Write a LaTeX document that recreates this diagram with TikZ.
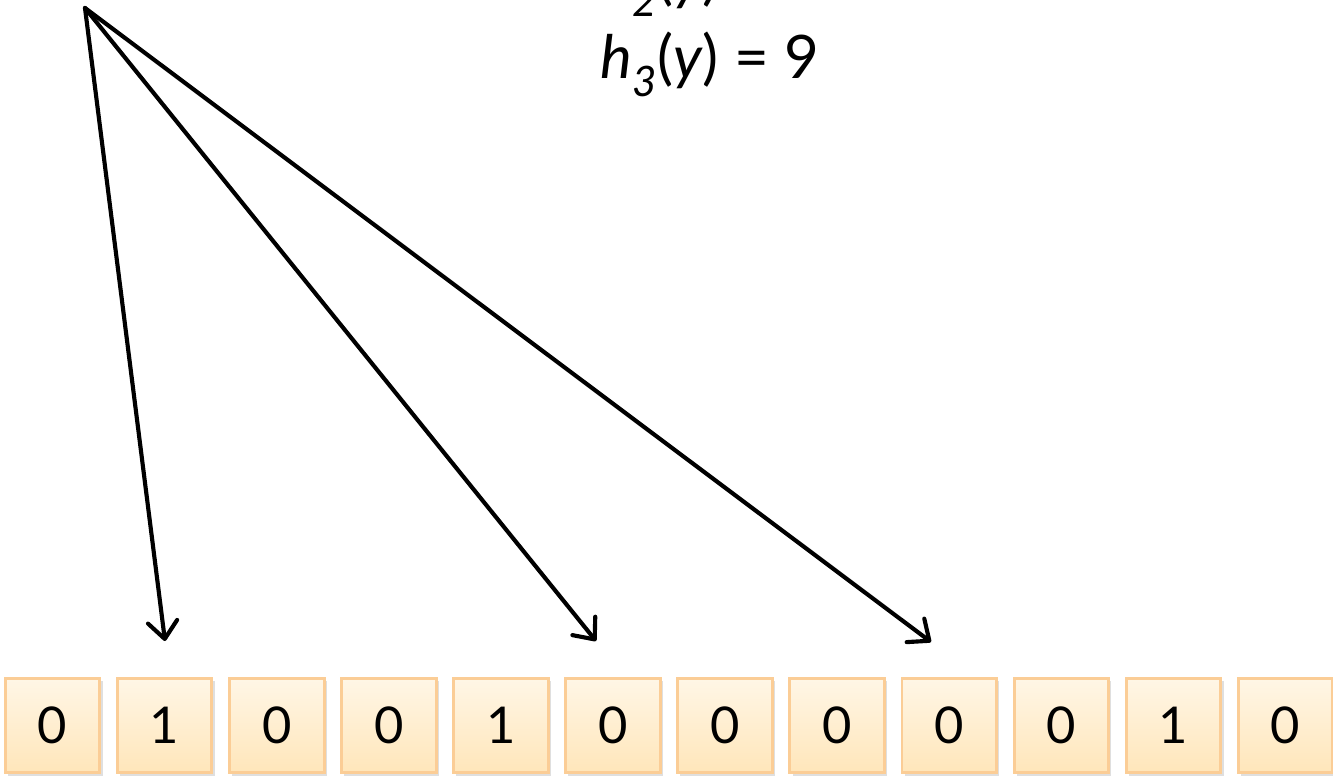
\documentclass[tikz,border=0pt]{standalone}
\usepackage{fontspec}
\setmainfont{Lato}
\usetikzlibrary{arrows.meta,shadows}
\definecolor{celltop}{HTML}{FFF6E6}
\definecolor{cellbot}{HTML}{FFE6BA}
\definecolor{celledge}{HTML}{FBCD96}
\tikzset{
  cell/.style={draw=celledge,line width=2.2pt,top color=celltop,bottom color=cellbot,
    minimum width=71pt,minimum height=71pt,inner sep=0pt,
    font=\fontsize{38}{42}\selectfont,
    drop shadow={opacity=0.25,shadow xshift=2pt,shadow yshift=-2pt}},
  hashto/.style={line width=3.1pt,line cap=round,
    -{Straight Barb[length=13pt,width=22pt,line width=3.1pt,round]}},
  hashtxt/.style={font=\fontsize{45}{52}\selectfont,inner sep=0pt,anchor=base west}
}
\begin{document}
\begin{tikzpicture}[x=0.75pt,y=-0.75pt]
  \clip (0,0) rectangle (1333,779);
  \fill[white] (0,0) rectangle (1333,779);
  % bit array
  \foreach \v [count=\i from 0] in {0,1,0,0,1,0,0,0,0,0,1,0}
    \node[cell] (c\i) at ({52.5+112.1*\i},725.5) {\v};
  % hash values
  \node[hashtxt] (h2) at (600,-2) {\textit{h}\textsubscript{\textit{2}}(\textit{y})};
  \node[hashtxt] (h3) at (600,78) {\textit{h}\textsubscript{\textit{3}}(\textit{y}) = 9};
  % arrows
  \coordinate (src) at (85,8);
  \coordinate (t1) at (165,641);
  \coordinate (t2) at (596,641);
  \coordinate (t3) at (931,642);
  \draw[hashto] (src) -- (t1);
  \draw[hashto] (src) -- (t2);
  \draw[hashto] (src) -- (t3);
\end{tikzpicture}
\end{document}
